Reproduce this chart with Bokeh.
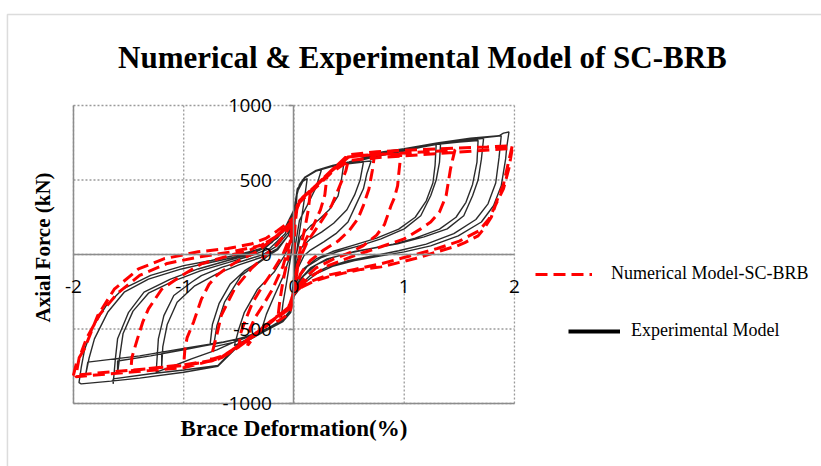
from bokeh.plotting import figure
from bokeh.models import (FixedTicker, Range1d, Label, Legend, LegendItem,
                          PolyAnnotation)
from bokeh.embed import file_html
from bokeh.resources import INLINE

# Axis ticks and their labels
x_ticks = [-2, -1, 0, 1, 2]
x_tick_labels = ["-2", "-1", "0", "1", "2"]
y_ticks = [-1000, -500, 0, 500, 1000]
y_tick_labels = ["-1000", "-500", "0", "500", "1000"]

title_text = "Numerical & Experimental Model of SC-BRB"
x_title = "Brace Deformation(%)"
y_title = "Axial Force (kN)"
num_label = "Numerical Model-SC-BRB"
exp_label = "Experimental Model"

# Numerical model: brace deformation (%) and axial force (kN), one loading cycle per pair
num_c1_x = [0.0, 0.01, 0.03, 0.08, 0.15, 0.13, 0.10, 0.06, 0.02, 0.0, -0.03, -0.08, -0.15, -0.13, -0.10, -0.06, -0.02, 0.0]
num_c1_y = [0, 200, 330, 385, 430, 300, 180, 50, -120, -250, -370, -415, -450, -320, -180, -40, 120, 240]

num_c2_x = [0.03, 0.10, 0.20, 0.30, 0.28, 0.24, 0.18, 0.10, 0.04, 0.0, -0.05, -0.20, -0.33, -0.42, -0.40, -0.35, -0.28, -0.20, -0.10, -0.03, 0.0]
num_c2_y = [330, 390, 460, 530, 400, 300, 200, 90, -60, -250, -355, -445, -520, -610, -500, -420, -340, -240, -80, 100, 240]

num_c3_x = [0.05, 0.20, 0.34, 0.49, 0.50, 0.47, 0.43, 0.34, 0.22, 0.12, 0.04, 0.0, -0.05, -0.20, -0.35, -0.50, -0.48, -0.44, -0.38, -0.30, -0.20, -0.10, -0.03, 0.0]
num_c3_y = [360, 460, 560, 650, 658, 560, 487, 327, 192, 85, -50, -250, -360, -440, -530, -615, -520, -440, -330, -230, -120, 0, 130, 240]

num_c4_x = [0.05, 0.20, 0.34, 0.48, 0.60, 0.73, 0.71, 0.68, 0.63, 0.58, 0.50, 0.40, 0.27, 0.15, 0.06, 0.0, -0.05, -0.20, -0.35, -0.50, -0.65, -0.75, -0.74, -0.70, -0.66, -0.60, -0.54, -0.46, -0.39, -0.28, -0.15, -0.05, 0.0]
num_c4_y = [360, 465, 565, 655, 662, 665, 560, 440, 330, 240, 160, 90, 30, -40, -130, -255, -362, -442, -532, -612, -682, -705, -655, -540, -410, -320, -233, -160, -97, -20, 70, 170, 240]

num_c5_x = [0.05, 0.20, 0.34, 0.47, 0.60, 0.80, 0.97, 0.95, 0.94, 0.91, 0.88, 0.82, 0.75, 0.63, 0.50, 0.36, 0.20, 0.08, 0.0, -0.05, -0.20, -0.35, -0.50, -0.65, -0.75, -0.87, -1.0, -0.99, -0.97, -0.91, -0.84, -0.77, -0.70, -0.60, -0.50, -0.34, -0.18, -0.06, 0.0]
num_c5_y = [360, 465, 565, 650, 665, 672, 675, 540, 461, 380, 327, 200, 130, 60, 10, -30, -90, -170, -260, -370, -450, -540, -620, -690, -715, -730, -740, -640, -560, -452, -300, -200, -140, -85, -40, 18, 110, 190, 240]

num_c6_x = [0.05, 0.20, 0.34, 0.49, 0.75, 1.0, 1.25, 1.46, 1.44, 1.42, 1.38, 1.32, 1.24, 1.15, 1.0, 0.79, 0.55, 0.31, 0.15, 0.05, 0.0, -0.05, -0.20, -0.35, -0.50, -0.65, -0.75, -1.0, -1.25, -1.48, -1.47, -1.42, -1.37, -1.32, -1.20, -1.02, -0.84, -0.60, -0.40, -0.20, -0.06, 0.0]
num_c6_y = [360, 460, 560, 655, 672, 682, 692, 700, 640, 575, 394, 285, 218, 172, 105, 52, -7, -75, -150, -210, -260, -365, -445, -535, -615, -685, -712, -740, -760, -780, -690, -566, -450, -365, -233, -142, -63, -10, 30, 100, 180, 240]

num_c7_x = [0.05, 0.20, 0.34, 0.49, 0.75, 1.0, 1.5, 1.75, 1.98, 1.94, 1.90, 1.85, 1.79, 1.72, 1.67, 1.55, 1.48, 1.30, 1.09, 0.79, 0.61, 0.45, 0.31, 0.18, 0.08, 0.0, -0.05, -0.20, -0.35, -0.50, -0.65, -0.75, -1.0, -1.5, -2.0, -1.97, -1.90, -1.78, -1.63, -1.41, -1.18, -0.87, -0.60, -0.39, -0.25, -0.15, -0.06, 0.0]
num_c7_y = [362, 462, 562, 668, 690, 700, 715, 722, 730, 600, 470, 380, 250, 170, 125, 80, 58, 18, -29, -83, -100, -125, -150, -180, -215, -260, -368, -448, -538, -618, -688, -714, -745, -778, -810, -720, -632, -410, -233, -97, -29, 18, 40, 70, 110, 160, 210, 250]

num_c8_x = [0.05, 0.20, 0.34, 0.50, 0.75, 1.0, 1.5, 1.98, 1.95, 1.90, 1.84, 1.77, 1.68, 1.50, 1.30, 1.05, 0.80, 0.55, 0.30, 0.12, 0.0, -0.05, -0.20, -0.35, -0.50, -0.68, -1.0, -1.5, -1.98, -1.95, -1.88, -1.76, -1.60, -1.40, -1.15, -0.85, -0.55, -0.30, -0.12, 0.0]
num_c8_y = [350, 450, 550, 630, 650, 662, 688, 712, 580, 440, 350, 240, 160, 90, 40, -10, -60, -100, -140, -190, -255, -360, -440, -530, -610, -700, -760, -790, -820, -700, -560, -400, -260, -140, -60, -15, 20, 60, 140, 240]

# Experimental model: brace deformation (%) and axial force (kN), one loading cycle per pair
exp_c1_x = [0.0, 0.01, 0.03, 0.08, 0.12, 0.10, 0.07, 0.03, 0.0, -0.02, -0.05, -0.12, -0.10, -0.07, -0.03, 0.0]
exp_c1_y = [0, 250, 420, 490, 510, 400, 250, 50, -150, -300, -400, -450, -330, -200, -20, 150]

exp_c2_x = [0.01, 0.03, 0.10, 0.20, 0.25, 0.20, 0.12, 0.05, 0.01, 0.0, -0.02, -0.05, -0.10, -0.20, -0.30, -0.25, -0.18, -0.10, -0.03, 0.0]
exp_c2_y = [330, 440, 515, 560, 570, 450, 330, 230, 50, -120, -300, -400, -440, -490, -520, -400, -280, -150, 0, 150]

exp_c3_x = [0.01, 0.03, 0.10, 0.20, 0.30, 0.45, 0.43, 0.40, 0.32, 0.22, 0.15, 0.06, 0.02, 0.0, -0.02, -0.05, -0.10, -0.25, -0.40, -0.54, -0.50, -0.45, -0.33, -0.18, -0.08, -0.02, 0.0]
exp_c3_y = [330, 440, 515, 560, 585, 600, 500, 394, 300, 230, 192, 120, 0, -150, -300, -400, -440, -500, -560, -612, -500, -388, -233, -118, 0, 120, 220]

exp_c4_x = [0.02, 0.05, 0.10, 0.20, 0.30, 0.45, 0.63, 0.60, 0.55, 0.48, 0.36, 0.25, 0.15, 0.06, 0.01, 0.0, -0.03, -0.10, -0.25, -0.40, -0.55, -0.73, -0.70, -0.63, -0.48, -0.27, -0.15, -0.05, 0.0]
exp_c4_y = [380, 470, 515, 560, 585, 605, 620, 500, 400, 300, 210, 150, 105, 40, -100, -200, -380, -440, -500, -550, -590, -620, -480, -320, -142, -29, 40, 130, 250]

exp_c5_x = [0.02, 0.05, 0.10, 0.20, 0.35, 0.50, 0.70, 0.66, 0.63, 0.56, 0.49, 0.38, 0.27, 0.15, 0.09, 0.03, 0.0, -0.03, -0.10, -0.25, -0.45, -0.64, -0.76, -0.74, -0.68, -0.58, -0.45, -0.30, -0.15, -0.05, 0.0]
exp_c5_y = [380, 470, 520, 565, 595, 615, 628, 540, 441, 330, 218, 140, 85, 30, -9, -100, -250, -380, -440, -505, -560, -587, -600, -470, -330, -200, -110, -40, 30, 130, 260]

exp_c6_x = [0.02, 0.05, 0.10, 0.20, 0.35, 0.50, 0.65, 0.80, 1.0, 1.15, 1.29, 1.28, 1.26, 1.20, 1.10, 0.95, 0.75, 0.55, 0.35, 0.20, 0.08, 0.0, -0.03, -0.10, -0.25, -0.45, -0.64, -0.90, -1.20, -1.20, -1.19, -1.15, -1.06, -0.90, -0.70, -0.50, -0.30, -0.15, -0.05, 0.0]
exp_c6_y = [380, 470, 520, 565, 595, 615, 640, 665, 695, 720, 740, 600, 480, 360, 250, 170, 110, 65, 20, -30, -100, -220, -370, -435, -500, -555, -590, -625, -665, -760, -620, -470, -320, -210, -130, -70, -20, 40, 130, 260]

exp_c7_x = [0.02, 0.05, 0.10, 0.20, 0.35, 0.50, 0.80, 1.0, 1.33, 1.32, 1.29, 1.24, 1.15, 1.0, 0.79, 0.60, 0.40, 0.25, 0.12, 0.03, 0.0, -0.03, -0.10, -0.30, -0.48, -0.70, -0.93, -1.10, -1.25, -1.23, -1.18, -1.09, -0.93, -0.84, -0.65, -0.45, -0.28, -0.15, -0.05, 0.0]
exp_c7_y = [380, 465, 515, 560, 592, 612, 670, 700, 750, 620, 500, 394, 260, 172, 105, 60, 20, -20, -80, -170, -250, -375, -440, -520, -566, -640, -700, -750, -790, -566, -410, -275, -186, -142, -85, -40, 0, 60, 150, 270]

exp_c8_x = [0.02, 0.05, 0.10, 0.20, 0.35, 0.50, 0.80, 1.0, 1.30, 1.50, 1.67, 1.66, 1.62, 1.56, 1.47, 1.32, 1.10, 0.90, 0.70, 0.50, 0.30, 0.15, 0.05, 0.0, -0.03, -0.10, -0.30, -0.50, -0.64, -1.0, -1.30, -1.60, -1.60, -1.58, -1.55, -1.46, -1.32, -1.10, -0.85, -0.60, -0.40, -0.22, -0.08, 0.0]
exp_c8_y = [380, 465, 515, 560, 595, 615, 672, 700, 740, 755, 765, 620, 470, 350, 250, 170, 110, 70, 40, 10, -30, -90, -170, -260, -380, -440, -520, -565, -587, -640, -680, -715, -800, -680, -530, -380, -260, -180, -110, -55, -10, 40, 140, 280]

exp_c9_x = [0.02, 0.05, 0.10, 0.20, 0.35, 0.50, 0.80, 1.0, 1.30, 1.50, 1.72, 1.70, 1.67, 1.62, 1.54, 1.39, 1.18, 0.94, 0.79, 0.55, 0.35, 0.20, 0.08, 0.0, -0.03, -0.10, -0.30, -0.50, -0.69, -1.0, -1.30, -1.64, -1.64, -1.62, -1.60, -1.50, -1.36, -1.12, -0.87, -0.60, -0.40, -0.25, -0.10, 0.0]
exp_c9_y = [380, 465, 515, 560, 595, 618, 680, 705, 742, 760, 780, 640, 500, 394, 260, 172, 118, 72, 52, 20, -20, -70, -150, -260, -380, -440, -520, -600, -745, -775, -800, -835, -868, -700, -566, -388, -253, -165, -97, -40, 0, 50, 150, 280]

exp_c10_x = [0.02, 0.05, 0.10, 0.20, 0.35, 0.50, 0.80, 1.0, 1.30, 1.60, 1.88, 1.86, 1.83, 1.76, 1.65, 1.45, 1.20, 0.95, 0.75, 0.50, 0.30, 0.15, 0.05, 0.0, -0.03, -0.10, -0.30, -0.50, -0.64, -1.0, -1.40, -1.87, -1.89, -1.86, -1.81, -1.69, -1.54, -1.32, -1.02, -0.80, -0.55, -0.35, -0.20, -0.08, 0.0]
exp_c10_y = [380, 465, 515, 560, 595, 620, 685, 705, 745, 775, 797, 650, 480, 340, 235, 140, 70, 25, -5, -40, -85, -140, -210, -280, -385, -445, -525, -565, -587, -630, -680, -722, -810, -700, -566, -388, -253, -165, -97, -60, -20, 20, 80, 180, 300]

exp_c11_x = [0.02, 0.05, 0.10, 0.20, 0.35, 0.50, 0.80, 1.0, 1.30, 1.60, 1.86, 1.90, 1.95, 1.93, 1.92, 1.88, 1.81, 1.70, 1.49, 1.24, 1.0, 0.79, 0.55, 0.35, 0.20, 0.08, 0.0, -0.03, -0.10, -0.30, -0.50, -0.69, -1.0, -1.40, -1.66, -1.93, -1.95, -1.93, -1.90, -1.82, -1.70, -1.55, -1.30, -1.0, -0.75, -0.50, -0.30, -0.15, -0.05, 0.0]
exp_c11_y = [390, 470, 520, 565, 598, 622, 689, 710, 748, 780, 797, 815, 822, 720, 642, 461, 327, 218, 125, 58, 18, -9, -40, -80, -130, -200, -280, -390, -450, -530, -610, -750, -790, -830, -850, -868, -860, -760, -640, -480, -340, -230, -140, -75, -40, 0, 40, 110, 200, 300]

num_cycles = [(num_c1_x, num_c1_y), (num_c2_x, num_c2_y), (num_c3_x, num_c3_y),
              (num_c4_x, num_c4_y), (num_c5_x, num_c5_y), (num_c6_x, num_c6_y),
              (num_c7_x, num_c7_y), (num_c8_x, num_c8_y)]
exp_cycles = [(exp_c1_x, exp_c1_y), (exp_c2_x, exp_c2_y), (exp_c3_x, exp_c3_y),
              (exp_c4_x, exp_c4_y), (exp_c5_x, exp_c5_y), (exp_c6_x, exp_c6_y),
              (exp_c7_x, exp_c7_y), (exp_c8_x, exp_c8_y), (exp_c9_x, exp_c9_y),
              (exp_c10_x, exp_c10_y), (exp_c11_x, exp_c11_y)]

# Each model is drawn as one continuous loading path
num_x = [v for xs, _ in num_cycles for v in xs]
num_y = [v for _, ys in num_cycles for v in ys]
exp_x = [v for xs, _ in exp_cycles for v in xs]
exp_y = [v for _, ys in exp_cycles for v in ys]

GRAY = "#8c8c8c"
SERIF = "Liberation Serif"

# The canvas is the drawing frame; the plotted region is x in [-2, 2], y in [-1000, 1000]
p = figure(width=821, height=466, output_backend="svg", toolbar_location=None,
           x_range=Range1d(-2.662, 4.785), y_range=Range1d(-1422.8, 1704.7),
           min_border=0, min_border_left=0, min_border_right=0,
           min_border_top=0, min_border_bottom=0)
p.outline_line_color = None
p.background_fill_color = "white"
p.border_fill_color = "white"
p.xgrid.visible = False
p.ygrid.visible = False

x_lo, x_hi = x_ticks[0], x_ticks[-1]
y_lo, y_hi = y_ticks[0], y_ticks[-1]

# Dotted grid over the plotted region
p.segment(x0=x_ticks, y0=[y_lo] * len(x_ticks), x1=x_ticks, y1=[y_hi] * len(x_ticks),
          line_color="#9a9a9a", line_dash="2 2", line_width=1.3)
p.segment(x0=[x_lo] * len(y_ticks), y0=y_ticks, x1=[x_hi] * len(y_ticks), y1=y_ticks,
          line_color="#9a9a9a", line_dash="2 2", line_width=1.3)
# Solid left and bottom edges of the plotted region
p.segment(x0=[x_lo, x_lo], y0=[y_lo, y_lo], x1=[x_lo, x_hi], y1=[y_hi, y_lo],
          line_color=GRAY, line_width=1.5)

# Axes crossing at the origin
xa = p.xaxis[0]
ya = p.yaxis[0]
xa.fixed_location = 0
ya.fixed_location = 0
xa.bounds = (x_lo, x_hi)
ya.bounds = (y_lo, y_hi)
xa.ticker = FixedTicker(ticks=x_ticks)
ya.ticker = FixedTicker(ticks=y_ticks)
xa.major_label_overrides = dict(zip(x_ticks, x_tick_labels))
ya.major_label_overrides = dict(zip(y_ticks, y_tick_labels))
for ax in (xa, ya):
    ax.axis_line_color = GRAY
    ax.axis_line_width = 1.5
    ax.minor_tick_line_color = None
    ax.major_label_text_font = "Open Sans"
    ax.major_label_text_font_size = "19px"
    ax.major_label_text_color = "black"
xa.major_tick_line_color = None
xa.major_tick_out = 0
xa.major_tick_in = 0
xa.major_label_standoff = 25
ya.major_tick_line_color = GRAY
ya.major_tick_line_width = 1.5
ya.major_tick_out = 5
ya.major_tick_in = 0
ya.major_label_standoff = 17

# Curves
exp_r = p.line(exp_x, exp_y, line_color="#141414", line_width=1.4, line_alpha=0.9)
num_r = p.line(num_x, num_y, line_color="#ff0000", line_width=3, line_dash="12 6")
# Key glyph for the experimental series (holds no visible points)
exp_key = p.line(x=[float("nan")], y=[float("nan")], line_color="black", line_width=4)

# Legend entries
leg_num = Legend(items=[LegendItem(label=num_label, renderers=[num_r])],
                 location=(535, 182), glyph_width=57, glyph_height=20,
                 label_standoff=19, label_height=20, padding=0, margin=0,
                 border_line_color=None, background_fill_alpha=0,
                 label_text_font=SERIF, label_text_font_size="18px",
                 label_text_color="black")
leg_exp = Legend(items=[LegendItem(label=exp_label, renderers=[exp_key])],
                 location=(568, 125), glyph_width=52, glyph_height=20,
                 label_standoff=11, label_height=20, padding=0, margin=0,
                 border_line_color=None, background_fill_alpha=0,
                 label_text_font=SERIF, label_text_font_size="18px",
                 label_text_color="black")
p.add_layout(leg_num)
p.add_layout(leg_exp)

# Titles
p.add_layout(Label(x=1.165, y=1322, text=title_text, text_font=SERIF,
                   text_font_style="bold", text_font_size="31px", text_color="black",
                   text_align="center", text_baseline="middle"))
p.add_layout(Label(x=0, y=-1168, text=x_title, text_font=SERIF,
                   text_font_style="bold", text_font_size="23px", text_color="black",
                   text_align="center", text_baseline="middle"))
p.add_layout(Label(x=-2.281, y=47, text=y_title, text_font=SERIF,
                   text_font_style="bold", text_font_size="21px", text_color="black",
                   text_align="center", text_baseline="middle", angle=1.5708))

# Chart-area frame (left and top edges)
p.add_layout(PolyAnnotation(xs=[-2.599, -2.599, 4.9, 4.9],
                            ys=[-1500, 1611, 1611, -1500],
                            fill_alpha=0, line_color=GRAY, line_width=1.5))

open("out.html", "w").write(file_html(p, INLINE))
